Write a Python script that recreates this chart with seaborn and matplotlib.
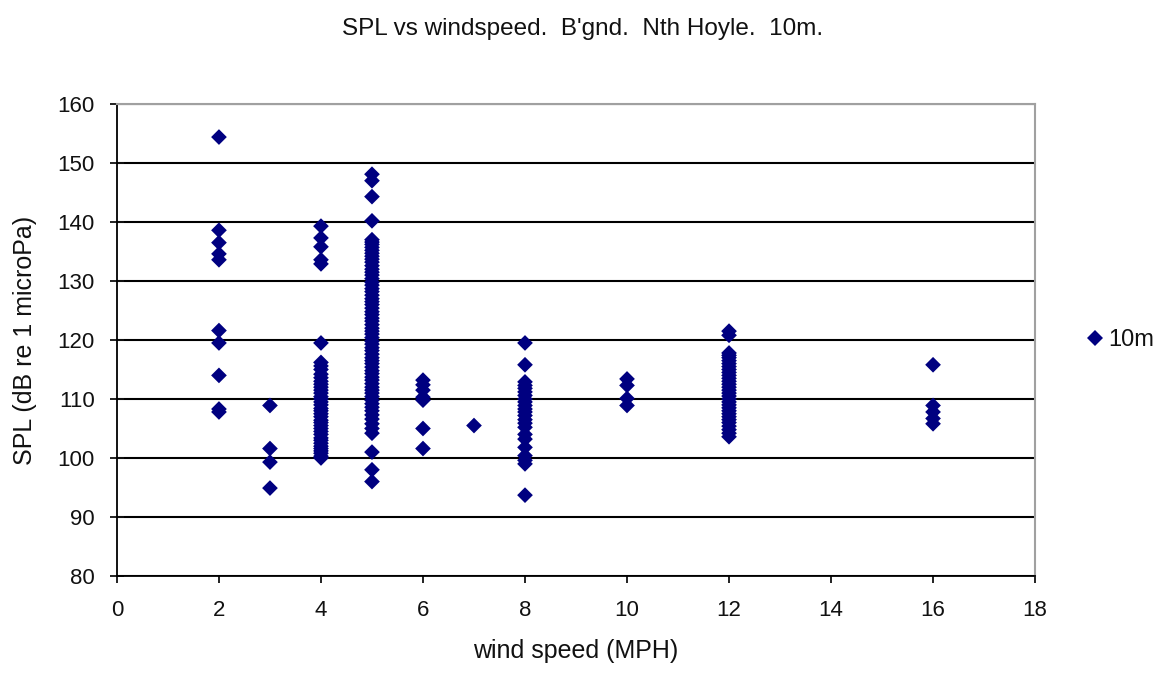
import matplotlib.pyplot as plt
import numpy as np
import pandas as pd
import seaborn as sns

# SPL readings (dB re 1 microPa) grouped by wind speed (MPH)
spl_2mph = [154.4, 138.6, 136.5, 134.6, 133.6, 121.6, 119.5, 114.0, 108.3, 107.8]
spl_3mph = [108.9, 101.6, 99.3, 94.9]
spl_4mph = [139.3, 137.3, 135.8, 133.6, 132.9, 119.5,
            116.2, 115.6, 115.0, 114.2, 113.6, 113.0, 112.5, 112.0, 111.5,
            111.0, 110.4, 110.0, 109.5, 109.0, 108.4, 108.0, 107.5, 107.0,
            106.4, 106.0, 105.5, 105.0, 104.5, 104.0, 103.4, 103.0, 102.5,
            102.0, 101.6, 101.2, 100.8, 100.3, 100.0]
spl_5mph = [148.1, 147.0, 144.3, 140.2,
            137.0, 136.6, 136.2, 135.7, 135.2, 134.7, 134.2, 133.7, 133.2,
            132.6, 132.0, 131.5, 131.0, 130.4, 129.8, 129.3, 128.7, 128.2,
            127.6, 127.0, 126.5, 126.0, 125.4, 124.8, 124.3, 123.7, 123.2,
            122.6, 122.0, 121.5, 121.0, 120.4, 119.8, 119.3, 118.7, 118.2,
            117.6, 117.0, 116.5, 116.0, 115.4, 114.8, 114.3, 113.7, 113.2,
            112.6, 112.0, 111.5, 111.0, 110.4, 109.8, 109.2, 108.6, 108.0,
            107.3, 106.6, 105.8, 105.0, 104.2, 101.0, 98.0, 96.0]
spl_6mph = [113.2, 112.4, 111.5, 110.3, 109.8, 105.0, 101.6]
spl_7mph = [105.5]
spl_8mph = [119.5, 115.8, 112.9, 112.3, 111.8, 111.2, 110.6, 110.0, 109.5,
            108.9, 108.3, 107.8, 107.2, 106.5, 105.9, 105.2, 104.0, 103.2,
            101.8, 100.4, 99.6, 99.0, 93.7]
spl_10mph = [113.4, 112.3, 110.1, 108.9]
spl_12mph = [121.5, 120.8, 117.8, 117.4, 117.0, 116.5, 116.0, 115.5, 115.0,
             114.5, 114.0, 113.5, 113.0, 112.5, 112.0, 111.5, 111.0, 110.5,
             110.0, 109.5, 109.0, 108.5, 108.0, 107.5, 107.0, 106.5, 106.0,
             105.4, 104.8, 104.2, 103.6]
spl_16mph = [115.8, 108.9, 107.8, 106.7, 105.8]

wind_speeds = [2, 3, 4, 5, 6, 7, 8, 10, 12, 16]
spl_groups = [spl_2mph, spl_3mph, spl_4mph, spl_5mph, spl_6mph, spl_7mph,
              spl_8mph, spl_10mph, spl_12mph, spl_16mph]

x_ticks = list(range(0, 19, 2))
y_ticks = list(range(80, 161, 10))

df = pd.concat([pd.DataFrame({'wind': w, 'spl': vals, 'series': '10m'})
                for w, vals in zip(wind_speeds, spl_groups)],
               ignore_index=True)

sns.set_style('white')
plt.rcParams['font.family'] = ['Liberation Sans', 'DejaVu Sans']
plt.rcParams['text.color'] = '#111111'
plt.rcParams['axes.labelcolor'] = '#111111'
plt.rcParams['xtick.color'] = '#111111'
plt.rcParams['ytick.color'] = '#111111'

fig = plt.figure(figsize=(11.66, 6.75), dpi=100)
ax = fig.add_axes([0.1003, 0.1467, 0.7874, 0.6992])

sns.scatterplot(data=df, x='wind', y='spl', hue='series',
                palette=['#000080'], marker='D', s=64, linewidth=0,
                ax=ax, zorder=3)

ax.set_xlim(0, 18)
ax.set_ylim(80, 160)
ax.set_xticks(x_ticks)
ax.set_yticks(y_ticks)
ax.yaxis.grid(True, color='black', lw=1.5)
ax.set_axisbelow(True)

for side in ['top', 'right']:
    ax.spines[side].set_color('#a0a0a0')
    ax.spines[side].set_linewidth(1.5)
for side in ['left', 'bottom']:
    ax.spines[side].set_color('black')
    ax.spines[side].set_linewidth(1.3)

ax.tick_params(axis='x', direction='out', length=5, width=1.3,
               labelsize=16, pad=12, bottom=True)
ax.tick_params(axis='y', direction='inout', length=10, width=1.3,
               labelsize=16, pad=11, left=True)

ax.set_xlabel('wind speed (MPH)', fontsize=18, labelpad=13)
ax.set_ylabel('SPL (dB re 1 microPa)', fontsize=18, labelpad=15)
fig.suptitle("SPL vs windspeed.  B'gnd.  Nth Hoyle.  10m.", fontsize=17.5,
             y=0.974)

ax.legend(loc='center left', bbox_to_anchor=(1.055, 0.5), frameon=False,
          fontsize=17, handlelength=0.8, handletextpad=0.15,
          borderaxespad=0, borderpad=0, markerscale=1.0)

fig.savefig('out.png', dpi=100)
